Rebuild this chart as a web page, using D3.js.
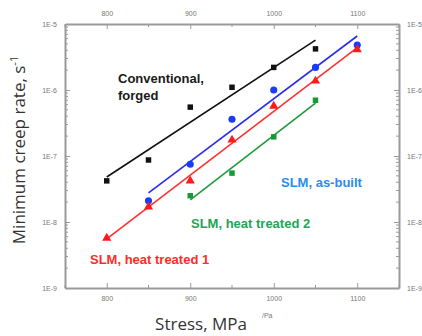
<!DOCTYPE html>
<html>
<head>
<meta charset="utf-8">
<script src="https://cdn.jsdelivr.net/npm/d3@7"></script>
<style>
body{margin:0;background:#fff;}
svg{display:block;font-family:"Liberation Sans",Arial,sans-serif;}
</style>
</head>
<body>
<svg width="422" height="336"></svg>
<script>
// data
var stress = [800, 850, 900, 950, 1000, 1050, 1100];
var forgedStress = [800, 850, 900, 950, 1000, 1050];
var forgedRate = [4.2e-8, 8.7e-8, 5.5e-7, 1.1e-6, 2.2e-6, 4.2e-6];
var builtStress = [850, 900, 950, 1000, 1050, 1100];
var builtRate = [2.1e-8, 7.5e-8, 3.6e-7, 1.0e-6, 2.2e-6, 4.8e-6];
var ht1Stress = [800, 850, 900, 950, 1000, 1050, 1100];
var ht1Rate = [5.7e-9, 1.7e-8, 4.2e-8, 1.75e-7, 5.7e-7, 1.37e-6, 4.1e-6];
var ht2Stress = [900, 950, 1000, 1050];
var ht2Rate = [2.5e-8, 5.5e-8, 1.95e-7, 7.0e-7];
var yTicks = [1e-9, 1e-8, 1e-7, 1e-6, 1e-5];

var svg = d3.select("svg");
var marge = {top:24, bottom:48, left:65, right:23};
var width = 422 - marge.left - marge.right;
var height = 336 - marge.top - marge.bottom;
var g = svg.append("g").attr("transform","translate("+marge.left+","+marge.top+")");

var x = d3.scaleLinear().domain([750,1150]).range([0,width]);
var y = d3.scaleLog().domain([1e-9,1e-5]).range([height,0]);

var fmt = function(d){ return "1E" + Math.round(Math.log10(d)); };
var minor = [];
for(var e=-9;e<-5;e++){
	for(var m=2;m<10;m++){ minor.push(m*Math.pow(10,e)); }
}
var xMinor = [750, 850, 950, 1050, 1150];
var axisCol = "#9a9a9a";

// minor ticks
g.selectAll(".ymin").data(minor).enter().append("g").each(function(d){
	var s = d3.select(this);
	s.append("line").attr("x1",0).attr("x2",3).attr("y1",y(d)).attr("y2",y(d));
	s.append("line").attr("x1",width).attr("x2",width-3).attr("y1",y(d)).attr("y2",y(d));
}).selectAll("line").attr("stroke",axisCol).attr("stroke-width",1);
g.selectAll(".xmin").data(xMinor).enter().append("g").each(function(d){
	var s = d3.select(this);
	s.append("line").attr("x1",x(d)).attr("x2",x(d)).attr("y1",0).attr("y2",3);
	s.append("line").attr("x1",x(d)).attr("x2",x(d)).attr("y1",height).attr("y2",height-3);
}).selectAll("line").attr("stroke",axisCol).attr("stroke-width",1);

// axes with inward ticks
function styleAxis(sel){
	sel.select(".domain").attr("stroke",axisCol).attr("stroke-width",2);
	sel.selectAll(".tick line").attr("stroke",axisCol).attr("stroke-width",1);
	sel.selectAll(".tick text").attr("fill","#777").style("font-size","7px");
}
var ticksX = stress.filter(function(d){ return d%100==0; });
g.append("g").attr("transform","translate(0,"+height+")")
 .call(d3.axisBottom(x).tickValues(ticksX).tickFormat(d3.format("d")).tickSize(-5).tickSizeOuter(0).tickPadding(8))
 .call(styleAxis);
g.append("g")
 .call(d3.axisTop(x).tickValues(ticksX).tickFormat(d3.format("d")).tickSize(-5).tickSizeOuter(0).tickPadding(8))
 .call(styleAxis);
g.append("g")
 .call(d3.axisLeft(y).tickValues(yTicks).tickFormat(fmt).tickSize(-5).tickSizeOuter(0).tickPadding(8))
 .call(styleAxis);
g.append("g").attr("transform","translate("+width+",0)")
 .call(d3.axisRight(y).tickValues(yTicks).tickFormat(fmt).tickSize(-5).tickSizeOuter(0).tickPadding(8))
 .call(styleAxis);

// series
var series = [
	{xs:forgedStress, ys:forgedRate, line:"#111111", fill:"#111111", shape:d3.symbolSquare, size:30},
	{xs:builtStress, ys:builtRate, line:"#2b2bee", fill:"#1a3cf5", shape:d3.symbolCircle, size:40},
	{xs:ht1Stress, ys:ht1Rate, line:"#ff3030", fill:"#ff1a1a", shape:d3.symbolTriangle, size:36},
	{xs:ht2Stress, ys:ht2Rate, line:"#1f9a3e", fill:"#159a38", shape:d3.symbolSquare, size:30}
];

// least squares fit in log space
function fit(xs, ys){
	var ly = ys.map(function(v){ return Math.log10(v); });
	var mx = d3.mean(xs), my = d3.mean(ly);
	var num = 0, den = 0;
	xs.forEach(function(v,i){ num += (v-mx)*(ly[i]-my); den += (v-mx)*(v-mx); });
	var b = num/den;
	return function(v){ return Math.pow(10, my + b*(v-mx)); };
}

series.forEach(function(s){
	var f = fit(s.xs, s.ys);
	var ends = d3.extent(s.xs);
	g.append("line")
	 .attr("x1",x(ends[0])).attr("y1",y(f(ends[0])))
	 .attr("x2",x(ends[1])).attr("y2",y(f(ends[1])))
	 .attr("stroke",s.line).attr("stroke-width",1.6);
	g.selectAll(null).data(s.xs).enter().append("path")
	 .attr("d",d3.symbol().type(s.shape).size(s.size))
	 .attr("transform",function(d,i){ return "translate("+x(d)+","+y(s.ys[i])+")"; })
	 .attr("fill",s.fill);
});

// labels
function label(txt, lx, ly, col){
	svg.append("text").attr("x",lx).attr("y",ly).text(txt)
	   .attr("fill",col).style("font-size","13px").style("font-weight","bold");
}
label("Conventional,", 118, 83, "#1a1a1a");
label("forged", 118, 100, "#1a1a1a");
label("SLM, as-built", 281, 187, "#2a8cf2");
label("SLM, heat treated 2", 191, 228, "#22a555");
label("SLM, heat treated 1", 90, 264, "#ff2a2a");

// axis titles
svg.append("text").attr("transform","translate(25,150) rotate(-90)")
   .attr("text-anchor","middle").attr("fill","#333")
   .style("font-family","'Open Sans',sans-serif").style("font-size","17px")
   .text("Minimum creep rate, s").append("tspan").attr("dy","-7").style("font-size","11px").text("-1");
svg.append("text").attr("x",201).attr("y",330).attr("text-anchor","middle").attr("fill","#333")
   .style("font-family","'Open Sans',sans-serif").style("font-size","17px").text("Stress, MPa");
svg.append("text").attr("x",262).attr("y",318).attr("fill","#777").style("font-size","7px").text("/Pa");
</script>
</body>
</html>
